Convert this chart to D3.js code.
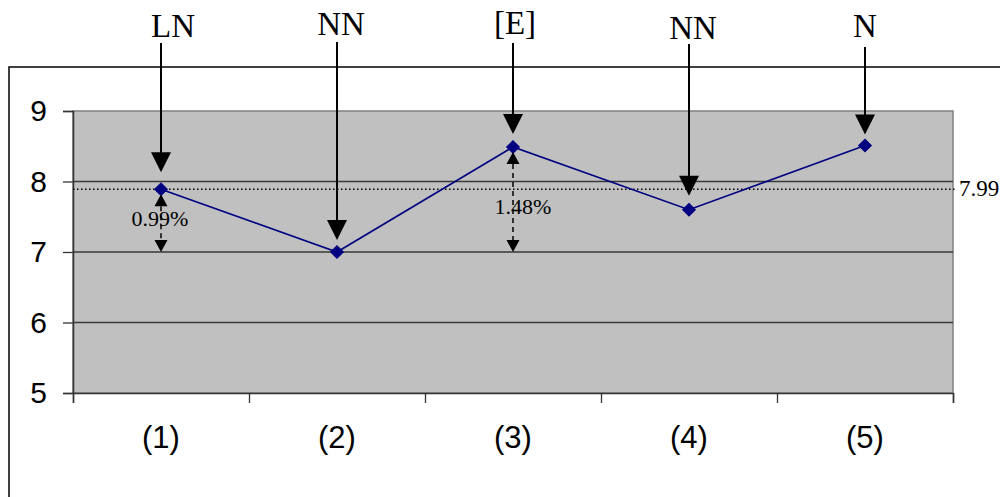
<!DOCTYPE html>
<html>
<head>
<meta charset="utf-8">
<script src="https://cdn.jsdelivr.net/npm/d3@7"></script>
<style>
	body{margin:0;padding:0;background:#fff;}
	svg{display:block;}
</style>
</head>
<body>
<div id="chartHolder"></div>
<script>
// data
var categories = ["(1)","(2)","(3)","(4)","(5)"];
var values = [7.89, 7.0, 8.49, 7.6, 8.51];
var topLabels = ["LN","NN","[E]","NN","N"];
var yTicks = [5,6,7,8,9];
var refValue = 7.89;
var refText = "7.99";
var diffIndex = [0, 2];
var diffText = ["0.99%", "1.48%"];
var diffBase = 7;

// layout only
var labelY = [37, 35, 34, 39, 37];
var labelDx = [12, 4, 2, 4, 0];
var arrowTop = [43, 42, 43, 44, 47];
var arrowGap = [17, 12, 13, 14, 11];

function drawChart(){
	var width = 1000;
	var height = 497;
	var plot = {left:73, right:953, top:111, bottom:393};

	var svg = d3.select("#chartHolder")
					.append("svg")
					.attr("width", width+"px")
					.attr("height", height+"px");

	// outer frame (runs off the page right and bottom)
	svg.append("rect")
		.attr("x", 9)
		.attr("y", 67)
		.attr("width", 1010)
		.attr("height", 460)
		.attr("fill", "none")
		.attr("stroke", "#000")
		.attr("stroke-width", 1.5);

	var x = d3.scaleBand()
				.domain(categories)
				.range([plot.left, plot.right]);

	var y = d3.scaleLinear()
				.domain([5, 9])
				.range([plot.bottom, plot.top]);

	svg.append("rect")
		.attr("x", plot.left)
		.attr("y", plot.top)
		.attr("width", plot.right-plot.left)
		.attr("height", plot.bottom-plot.top)
		.attr("fill", "#c0c0c0")
		.attr("stroke", "#808080")
		.attr("stroke-width", 1.5);

	// gridlines
	svg.selectAll(".grid")
		.data(yTicks.filter(function(d){return d > 5 && d < 9;}))
		.enter().append("line")
		.attr("x1", plot.left)
		.attr("x2", plot.right)
		.attr("y1", function(d){return y(d);})
		.attr("y2", function(d){return y(d);})
		.attr("stroke", "#3a3a3a")
		.attr("stroke-width", 1.3);

	// y axis
	var yAxis = d3.axisLeft(y)
					.tickValues(yTicks)
					.tickSize(10)
					.tickPadding(16)
					.tickFormat(d3.format("d"));

	var gy = svg.append("g")
				.attr("transform", "translate("+plot.left+",0)")
				.call(yAxis);
	gy.select(".domain").attr("stroke", "#333").attr("stroke-width", 1.5);
	gy.selectAll(".tick line").attr("stroke", "#333").attr("stroke-width", 1.3);
	gy.selectAll("text")
		.style("font-family", "Arial, 'Liberation Sans', sans-serif")
		.style("font-size", 30+"px")
		.attr("fill", "#000");

	// x axis: ticks on category boundaries
	var xb = d3.scaleLinear().domain([0, categories.length]).range([plot.left, plot.right]);
	var gx = svg.append("g")
				.attr("transform", "translate(0,"+plot.bottom+")")
				.call(d3.axisBottom(xb)
						.tickValues(d3.range(categories.length+1))
						.tickSize(10)
						.tickFormat(""));
	gx.select(".domain").attr("stroke", "#333").attr("stroke-width", 1.5);
	gx.selectAll(".tick line").attr("stroke", "#333").attr("stroke-width", 1.3);

	svg.selectAll(".xlab")
		.data(categories)
		.enter().append("text")
		.attr("text-anchor", "middle")
		.style("font-family", "Arial, 'Liberation Sans', sans-serif")
		.style("font-size", 31+"px")
		.attr("fill", "#000")
		.attr("x", function(d){return x(d)+x.bandwidth()/2;})
		.attr("y", 448)
		.text(function(d){return d;});

	// reference dotted line
	svg.append("line")
		.attr("x1", plot.left)
		.attr("x2", plot.right+2)
		.attr("y1", y(refValue))
		.attr("y2", y(refValue))
		.attr("stroke", "#000")
		.attr("stroke-width", 1.3)
		.attr("stroke-dasharray", "1.5,2.5");

	svg.append("text")
		.attr("x", plot.right+6)
		.attr("y", y(refValue)+7)
		.style("font-family", "'Liberation Serif', 'Times New Roman', serif")
		.style("font-size", 23+"px")
		.attr("fill", "#000")
		.text(refText);

	// series line
	var cx = function(i){return x(categories[i])+x.bandwidth()/2;};

	svg.append("path")
		.datum(values)
		.attr("fill", "none")
		.attr("stroke", "#000080")
		.attr("stroke-width", 1.6)
		.attr("d", d3.line()
					.x(function(d,i){return cx(i);})
					.y(function(d){return y(d);}));

	svg.selectAll(".marker")
		.data(values)
		.enter().append("path")
		.attr("transform", function(d,i){return "translate("+cx(i)+","+y(d)+") rotate(45)";})
		.attr("d", "M-4.5,-4.5H4.5V4.5H-4.5Z")
		.attr("fill", "#000080")
		.attr("stroke", "#000080")
		.attr("stroke-width", 1);

	// top labels with big arrows
	values.forEach(function(v,i){
		var ax = cx(i);
		var tip = y(v) - arrowGap[i];
		svg.append("text")
			.attr("text-anchor", "middle")
			.style("font-family", "'Liberation Serif', 'Times New Roman', serif")
			.style("font-size", 33+"px")
			.attr("fill", "#000")
			.attr("x", ax+labelDx[i])
			.attr("y", labelY[i])
			.text(topLabels[i]);

		svg.append("line")
			.attr("x1", ax)
			.attr("x2", ax)
			.attr("y1", arrowTop[i])
			.attr("y2", tip-18)
			.attr("stroke", "#000")
			.attr("stroke-width", 2);

		svg.append("path")
			.attr("d", "M"+(ax-10)+","+(tip-20)+"L"+(ax+10)+","+(tip-20)+"L"+ax+","+tip+"Z")
			.attr("fill", "#000");
	});

	// dashed double arrows with percentage labels
	diffIndex.forEach(function(idx,k){
		var ax = cx(idx);
		var top = y(values[idx]) + 5;
		var bot = y(diffBase);
		svg.append("line")
			.attr("x1", ax)
			.attr("x2", ax)
			.attr("y1", top+12)
			.attr("y2", bot-12)
			.attr("stroke", "#000")
			.attr("stroke-width", 1.5)
			.attr("stroke-dasharray", "5,4");

		svg.append("path")
			.attr("d", "M"+(ax-6.5)+","+(top+12)+"L"+(ax+6.5)+","+(top+12)+"L"+ax+","+top+"Z")
			.attr("fill", "#000");

		svg.append("path")
			.attr("d", "M"+(ax-6.5)+","+(bot-12)+"L"+(ax+6.5)+","+(bot-12)+"L"+ax+","+bot+"Z")
			.attr("fill", "#000");

		svg.append("text")
			.attr("text-anchor", "middle")
			.style("font-family", "'Liberation Serif', 'Times New Roman', serif")
			.style("font-size", 22+"px")
			.attr("fill", "#000")
			.attr("x", ax + (k==0 ? -1 : 10))
			.attr("y", (top+bot)/2 + (k==0 ? 3 : 12))
			.text(diffText[k]);
	});
}

drawChart();
</script>
</body>
</html>
